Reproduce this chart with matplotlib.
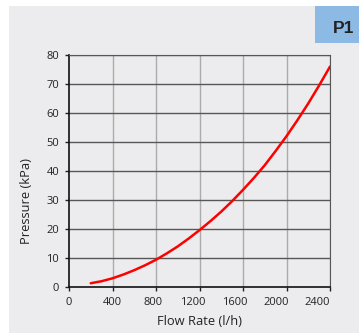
import matplotlib.pyplot as plt
from matplotlib.patches import Rectangle
from matplotlib.transforms import ScaledTranslation

# flow rate (l/h) and pressure drop (kPa)
flow = [200, 300, 400, 500, 600, 700, 800, 900, 1000, 1100, 1200, 1300,
        1400, 1500, 1600, 1700, 1800, 1900, 2000, 2100, 2200, 2300, 2400]
pressure = [1.3, 2.0, 3.0, 4.3, 5.8, 7.5, 9.4, 11.6, 14.0, 16.7, 19.6, 22.7,
            26.0, 29.6, 33.5, 37.6, 42.0, 46.9, 52.0, 57.5, 63.3, 69.5, 76.0]
x_ticks = [0, 400, 800, 1200, 1600, 2000, 2400]
y_ticks = [0, 10, 20, 30, 40, 50, 60, 70, 80]
tag = "P1"

plt.rcParams['font.family'] = ['Open Sans', 'DejaVu Sans']

fig = plt.figure(figsize=(3.59, 3.33), dpi=100, facecolor='white')
# gray panel behind the chart
fig.patches.append(Rectangle((9 / 359, 0), 1, 327 / 333, transform=fig.transFigure,
                             facecolor='#ececee', edgecolor='none', zorder=-10))
# blue tag in the top right corner
fig.patches.append(Rectangle((315 / 359, 290 / 333), 44 / 359, 37 / 333, transform=fig.transFigure,
                             facecolor='#8dbae4', edgecolor='none', zorder=-5))
fig.text(344 / 359, 304.5 / 333, tag, ha='center', va='center', fontsize=12.5,
         fontweight='bold', family='Liberation Sans', color='#222222')

ax = fig.add_axes([69 / 359, 46 / 333, 261 / 359, 232 / 333])
ax.set_facecolor('none')

ax.plot(flow, pressure, color='#ff0000', lw=1.8, zorder=5, solid_capstyle='round')

ax.set_xlim(0, 2400)
ax.set_ylim(0, 80)
ax.set_xticks(x_ticks)
ax.set_yticks(y_ticks)

for x in x_ticks[1:]:
    ax.axvline(x, color='#ababab', lw=1.0, zorder=1)
for y in y_ticks[1:]:
    ax.axhline(y, color='#575757', lw=1.0, zorder=2)

ax.spines['left'].set_color('#111111')
ax.spines['bottom'].set_color('#111111')
ax.spines['left'].set_linewidth(1.2)
ax.spines['bottom'].set_linewidth(1.2)
ax.spines['top'].set_color('#575757')
ax.spines['right'].set_color('#575757')

ax.tick_params(axis='both', labelsize=8, colors='#222222', length=3, width=1)
ax.tick_params(axis='y', pad=4)
ax.tick_params(axis='x', pad=4)

# the original x labels sit a little left of their ticks, more so to the right
shifts = [0, 0, 3, 7, 8, 10, 13]
for lbl, dx in zip(ax.get_xticklabels(), shifts):
    lbl.set_transform(lbl.get_transform() + ScaledTranslation(-dx / 100, 0, fig.dpi_scale_trans))

ax.set_xlabel('Flow Rate (l/h)', fontsize=9.3, color='#222222', labelpad=5)
ax.set_ylabel('Pressure (kPa)', fontsize=9.3, color='#222222')
ax.yaxis.set_label_coords(-0.138, 0.37)

fig.savefig('out.png', dpi=100)
